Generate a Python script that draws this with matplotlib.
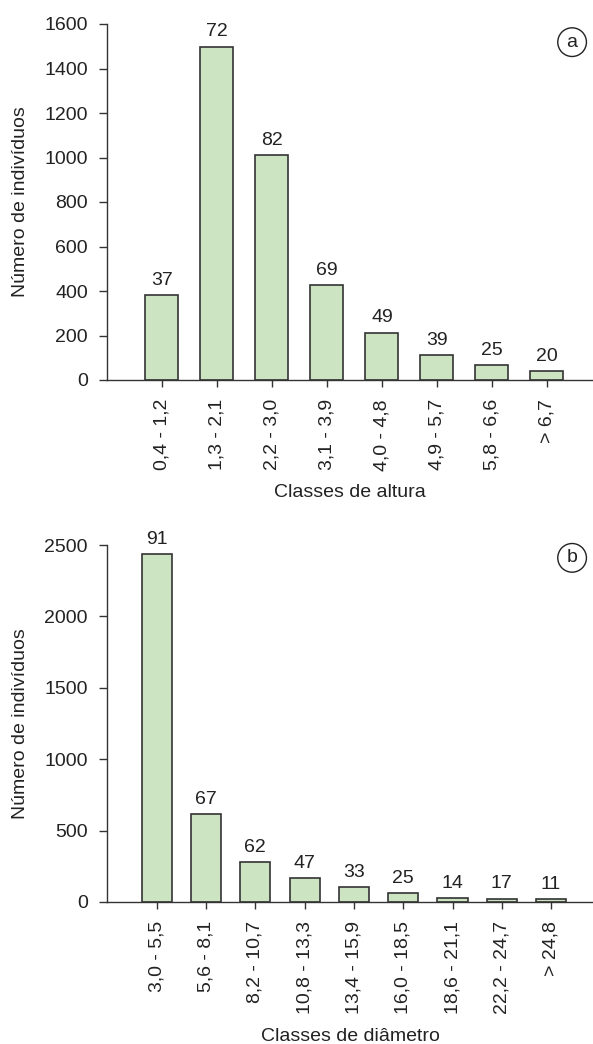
import matplotlib
matplotlib.use("Agg")
import matplotlib.pyplot as plt

plt.rcParams['font.family'] = ['Liberation Sans', 'DejaVu Sans']

# Height classes (panel a)
height_classes = ["0,4 - 1,2", "1,3 - 2,1", "2,2 - 3,0", "3,1 - 3,9",
                  "4,0 - 4,8", "4,9 - 5,7", "5,8 - 6,6", "> 6,7"]
height_counts = [382, 1498, 1012, 427, 213, 112, 67, 40]
height_labels = ["37", "72", "82", "69", "49", "39", "25", "20"]

# Diameter classes (panel b)
diam_classes = ["3,0 - 5,5", "5,6 - 8,1", "8,2 - 10,7", "10,8 - 13,3",
                "13,4 - 15,9", "16,0 - 18,5", "18,6 - 21,1", "22,2 - 24,7", "> 24,8"]
diam_counts = [2435, 617, 280, 166, 103, 63, 26, 24, 19]
diam_labels = ["91", "67", "62", "47", "33", "25", "14", "17", "11"]

W, H = 593, 1044
fig = plt.figure(figsize=(W / 100, H / 100), dpi=100)

FILL = "#cde4c2"
EDGE = "#333333"
TXT = "#222222"
FS = 14


def panel(rect, cats, counts, labels, ymax, ystep, xlim, width, xlabel, tag, tagpos):
    ax = fig.add_axes(rect)
    x = list(range(len(cats)))
    ax.bar(x, counts, width=width, color=FILL, edgecolor=EDGE, linewidth=1.2, zorder=2)
    for xi, v, lab in zip(x, counts, labels):
        ax.annotate(lab, (xi, v), xytext=(0, 4.5), textcoords="offset points",
                    ha="center", va="bottom", fontsize=FS, color=TXT)
    ax.set_xlim(*xlim)
    ax.set_ylim(0, ymax)
    ax.set_yticks(range(0, ymax + 1, ystep))
    ax.set_xticks(x)
    ax.set_xticklabels(cats, rotation=90)
    for s in ("top", "right"):
        ax.spines[s].set_visible(False)
    for s in ("left", "bottom"):
        ax.spines[s].set_color(EDGE)
        ax.spines[s].set_linewidth(1.0)
    ax.tick_params(axis="y", length=5.8, width=1.0, color=EDGE, pad=8,
                   labelsize=FS, labelcolor=TXT)
    ax.tick_params(axis="x", length=5.2, width=1.0, color=EDGE, pad=8.5,
                   labelsize=FS, labelcolor=TXT)
    ax.set_ylabel("Número de indivíduos", fontsize=FS, color=TXT)
    ax.set_xlabel(xlabel, fontsize=FS, color=TXT, labelpad=10)
    ax.yaxis.set_label_coords(-(107 - 29) / 486, 0.5)
    ax.text(tagpos[0], tagpos[1], tag, transform=ax.transAxes, ha="center", va="center",
            fontsize=FS, color=TXT,
            bbox=dict(boxstyle="circle,pad=0.3", fc="white", ec=TXT, lw=1.0))
    return ax


panel([107 / W, 1 - 380 / H, (593 - 107) / W, (380 - 24) / H],
      height_classes, height_counts, height_labels, 1600, 200,
      (-1.0, 7.84), 0.6, "Classes de altura", "a", (0.957, 0.949))
panel([107 / W, 1 - 902 / H, (593 - 107) / W, (902 - 545) / H],
      diam_classes, diam_counts, diam_labels, 2500, 500,
      (-1.01, 8.85), 0.61, "Classes de diâmetro", "b", (0.957, 0.964))

fig.savefig("out.png", dpi=100)
